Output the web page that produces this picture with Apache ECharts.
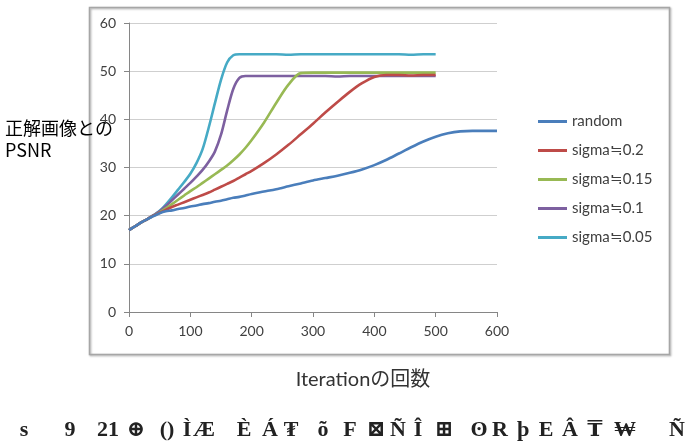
<!DOCTYPE html>
<html>
<head>
<meta charset="utf-8">
<script src="https://cdn.jsdelivr.net/npm/echarts@6/dist/echarts.min.js"></script>
<style>
html,body{margin:0;padding:0;background:#fff;}
#chart{width:689px;height:442px;}
</style>
</head>
<body>
<div id="chart"></div>
<script>
// ---- data ----
const iterations = [0,10,20,30,40,50,60,70,80,90,100,110,120,130,140,150,160,170,180,190,200,
  220,240,260,280,300,320,340,360,380,400,420,440,460,480,500,520,540,560,580,600];
const seriesNames = ['random','sigma≒0.2','sigma≒0.15','sigma≒0.1','sigma≒0.05'];
const randomVals = [17.0,17.8,18.6,19.3,19.9,20.5,20.9,21.1,21.4,21.6,21.9,22.1,22.4,22.6,22.9,23.1,23.4,23.7,23.9,24.2,24.5,
  25.0,25.5,26.1,26.7,27.3,27.8,28.3,28.9,29.6,30.5,31.6,32.9,34.2,35.4,36.4,37.1,37.5,37.6,37.6,37.6];
const sigma02Vals = [17.0,17.8,18.6,19.3,20.0,20.6,21.2,21.8,22.3,22.8,23.3,23.8,24.3,24.8,25.4,26.0,26.6,27.2,27.9,28.6,29.3,
  30.9,32.7,34.7,36.9,39.1,41.4,43.6,45.7,47.5,48.8,49.2,49.2,49.1,49.2,49.2];
const sigma015Vals = [17.0,17.8,18.6,19.3,20.0,20.7,21.5,22.4,23.3,24.2,25.1,25.9,26.8,27.7,28.6,29.5,30.4,31.5,32.7,34.1,35.7,
  39.3,43.4,47.2,49.6,49.7,49.7,49.7,49.7,49.7,49.7,49.7,49.7,49.7,49.7,49.7];
const sigma01Vals = [17.0,17.8,18.6,19.3,20.1,20.9,22.0,23.2,24.4,25.6,26.8,28.1,29.5,31.2,33.3,36.8,41.8,46.3,48.6,49.0,49.0,
  49.0,49.0,49.0,49.0,49.0,49.0,48.9,49.0,49.0,49.0,49.0,49.0,49.0,49.0,49.0];
const sigma005Vals = [17.0,17.8,18.6,19.3,20.1,21.0,22.3,23.8,25.4,27.0,28.7,30.9,33.8,38.3,43.3,48.2,51.8,53.3,53.5,53.5,53.5,
  53.5,53.5,53.4,53.5,53.5,53.5,53.5,53.5,53.5,53.5,53.5,53.5,53.4,53.5,53.5];
const xTicks = {min:0, max:600, interval:100};
const yTicks = {min:0, max:60, interval:10};
const yTitle = '正解画像との\nPSNR';
const xTitle = 'Iterationの回数';
const footerGlyphs = ['s','9','21','⊕','()','Ì','Æ','È','Á','₮','õ','F','⊠','Ñ','Î','⊞','ʘ','R','þ','E','Â','₸','₩','Ñ'];

// ---- chart ----
const colors = ['#4a7ebb','#be4b48','#98b954','#7d60a0','#46aac5'];
const valueSets = [randomVals, sigma02Vals, sigma015Vals, sigma01Vals, sigma005Vals];
const series = valueSets.map((vals, i) => ({
  name: seriesNames[i],
  type: 'line',
  data: vals.map((v, j) => [iterations[j], v]),
  showSymbol: false,
  symbol: 'none',
  smooth: 0.3,
  lineStyle: {width: 2.6, color: colors[i]},
  itemStyle: {color: colors[i]},
  z: 10 - i
}));

// layout of the footer glyphs (x centres, px)
const footerX = [24,70,108,136,167,187,204,244,270,291,323,350,376,398,418,444,479,500,523,546,570,595,625,677];
const footer = footerGlyphs.map((g, i) => ({
  type: 'text', x: footerX[i], y: 430, silent: true,
  style: {text: g, fill: '#222', align: 'center', verticalAlign: 'middle',
          font: 'bold 22px "Liberation Serif", "DejaVu Serif", serif'}
}));

const chart = echarts.init(document.getElementById('chart'), null, {renderer: 'canvas'});
const font = 'Lato, "Noto Sans CJK JP", sans-serif';
chart.setOption({
  animation: false,
  backgroundColor: '#fff',
  grid: {left: 129, right: 192, top: 23, bottom: 130, containLabel: false},
  xAxis: {
    type: 'value', min: xTicks.min, max: xTicks.max, interval: xTicks.interval,
    axisLine: {show: true, lineStyle: {color: '#868686', width: 1}},
    axisTick: {show: true, length: 5, lineStyle: {color: '#868686'}},
    axisLabel: {margin: 12, color: '#404040', fontSize: 14, fontFamily: font},
    splitLine: {show: false}
  },
  yAxis: {
    type: 'value', min: yTicks.min, max: yTicks.max, interval: yTicks.interval,
    axisLine: {show: true, lineStyle: {color: '#868686', width: 1}},
    axisTick: {show: true, length: 5, lineStyle: {color: '#868686'}},
    axisLabel: {margin: 13, color: '#404040', fontSize: 14, fontFamily: font},
    splitLine: {show: true, lineStyle: {color: '#cfcfcf', width: 1.2}}
  },
  legend: {
    orient: 'vertical',
    left: 533, top: 108,
    itemWidth: 29, itemHeight: 3, itemGap: 12,
    icon: 'rect',
    textStyle: {color: '#404040', fontSize: 15, fontFamily: font, lineHeight: 17},
    data: seriesNames
  },
  graphic: [
    {type: 'rect', left: 87, top: 5, z: -10, silent: true,
     shape: {width: 580, height: 347},
     style: {fill: 'none', stroke: '#a6a6a6', lineWidth: 1.5, shadowBlur: 2, shadowColor: 'rgba(0,0,0,0.35)', shadowOffsetX: 1, shadowOffsetY: 1}},
    {type: 'text', left: 5, top: 117, silent: true,
     style: {text: yTitle, fill: '#000', font: '18px "Noto Sans CJK JP", "Noto Sans", sans-serif', lineHeight: 22}},
    {type: 'text', x: 363, y: 380, silent: true,
     style: {text: xTitle, fill: '#333', align: 'center', verticalAlign: 'middle', font: '20px Lato, "Noto Sans CJK JP", sans-serif'}}
  ].concat(footer),
  series: series
});
</script>
</body>
</html>
